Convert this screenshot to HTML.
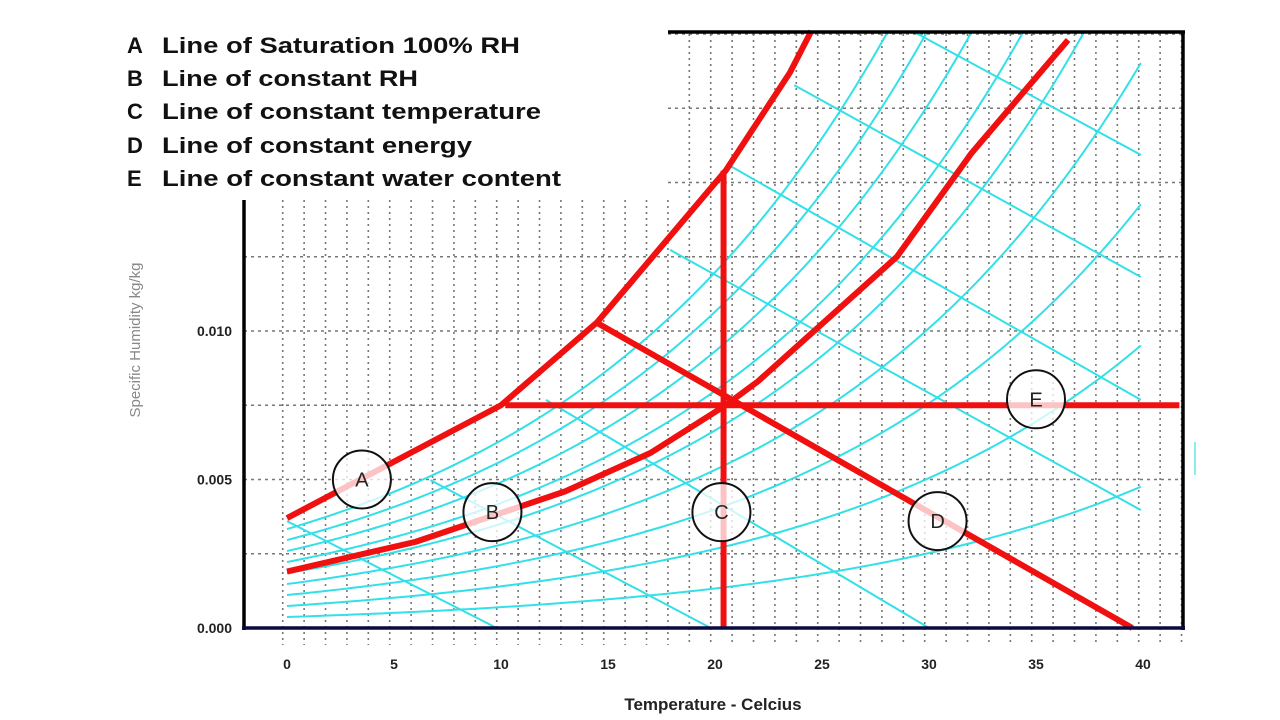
<!DOCTYPE html>
<html><head><meta charset="utf-8">
<style>
body{margin:0;background:#fff;width:1280px;height:720px;overflow:hidden;font-family:"Liberation Sans",sans-serif}
svg{position:absolute;left:0;top:0}
</style></head>
<body>
<svg id="chart" width="1280" height="720">
<g id="legend" font-size="22" font-weight="bold" fill="#111">
<text x="127" y="53">A</text>
<text x="162" y="53" textLength="358" lengthAdjust="spacingAndGlyphs">Line of Saturation 100% RH</text>
<text x="127" y="86">B</text>
<text x="162" y="86" textLength="256" lengthAdjust="spacingAndGlyphs">Line of constant RH</text>
<text x="127" y="119">C</text>
<text x="162" y="119" textLength="379" lengthAdjust="spacingAndGlyphs">Line of constant temperature</text>
<text x="127" y="153">D</text>
<text x="162" y="153" textLength="310" lengthAdjust="spacingAndGlyphs">Line of constant energy</text>
<text x="127" y="186">E</text>
<text x="162" y="186" textLength="399" lengthAdjust="spacingAndGlyphs">Line of constant water content</text>
</g>
<g id="grid"></g>
<g id="cyan"></g>
<g id="red"></g>
<g id="frame"></g>
<g id="axes"></g>
<g id="circles"></g>
<text x="140" y="340" transform="rotate(-90 140 340)" text-anchor="middle" font-size="15" fill="#888">Specific Humidity kg/kg</text>
<text x="713" y="710" text-anchor="middle" font-size="17" font-weight="bold" fill="#222">Temperature - Celcius</text>
<line x1="1195" y1="442" x2="1195" y2="475" stroke="#8ee" stroke-width="2"/>
</svg>
<script>
const xTicks=[0,5,10,15,20,25,30,35,40];
const yTicks=[0,0.005,0.010];
const yTickLabels=["0.000","0.005","0.010"];
const rhFractions=[0.1,0.2,0.3,0.4,0.5,0.6,0.7,0.8,0.9];
const satBase=0.0037, satRate=0.064;
const enthalpyStartT=[0,6.7,12.1,17.9,20.8,23.7,29.4];
const enthalpyStartQ=[0.0036,0.00498,0.00768,0.01273,0.01552,0.01828,0.02003];
const enthalpyEndT=[9.8,19.8,30.0,39.9,39.9,39.9,39.9];
const enthalpyEndQ=[0,0,0,0.00397,0.00768,0.01182,0.01593];
const satT=[0,10,14.5,20.5,23.5,24.5];
const satQ=[0.0037,0.0075,0.0103,0.0154,0.0187,0.0201];
const rhT=[0,6,13,17,20.5,22,28.5,32,36.5];
const rhQ=[0.0019,0.0029,0.0046,0.0059,0.0075,0.0083,0.0125,0.0160,0.0198];
const tempT=[20.4,20.4];
const tempQ=[0.0154,0];
const energyT=[14.5,39.5];
const energyQ=[0.01027,0];
const waterT=[10.2,41.7];
const waterQ=[0.0075,0.0075];
const markerLabels=["A","B","C","D","E"];
const markerT=[3.5,9.6,20.3,30.4,35];
const markerQ=[0.0050,0.0039,0.0039,0.0036,0.0077];

const X=t=>287+t*21.4, Y=q=>628-q*29700;
const NS="http://www.w3.org/2000/svg";
function mk(tag,attrs,parent){const e=document.createElementNS(NS,tag);for(const k in attrs)e.setAttribute(k,attrs[k]);parent.appendChild(e);return e;}
const grid=document.getElementById('grid'),cyan=document.getElementById('cyan'),red=document.getElementById('red'),frame=document.getElementById('frame'),axes=document.getElementById('axes'),circles=document.getElementById('circles');

for(let t=-0.2;X(t)<1182;t+=1){
  const x=X(t); const top=x>=668?34:200;
  const l=mk('line',{x1:x,y1:top,x2:x,y2:645,stroke:'#777','stroke-width':1.6,'stroke-dasharray':'2,4'},grid);
  
  
}
for(let q=0.0025;q<0.0205;q+=0.0025){
  const y=Y(q); const x1=y<200?668:244;
  const l=mk('line',{x1:x1,y1:y,x2:1183,y2:y,stroke:'#777','stroke-width':1.6,'stroke-dasharray':'3,4'},grid);
  
  
}
const qmax=0.0201;
rhFractions.forEach(f=>{
  let pts=[];
  for(let t=0;t<=39.9;t+=0.3){const q=f*satBase*Math.exp(satRate*t);if(q>qmax){const tt=Math.log(qmax/(f*satBase))/satRate;pts.push(X(tt)+','+Y(qmax));break;}pts.push(X(t)+','+Y(q));}
  const p=mk('polyline',{points:pts.join(' '),fill:'none',stroke:'#33e0e8','stroke-width':2},cyan);
  
  
});
enthalpyStartT.forEach((t,i)=>{
  const l=mk('line',{x1:X(t),y1:Y(enthalpyStartQ[i]),x2:X(enthalpyEndT[i]),y2:Y(enthalpyEndQ[i]),stroke:'#33e0e8','stroke-width':2},cyan);
  
  
});
function redLine(T,Q,name){
  const p=mk('polyline',{points:T.map((t,i)=>X(t)+','+Y(Q[i])).join(' '),fill:'none',stroke:'#f01010','stroke-width':6,'stroke-linejoin':'round'},red);
  
  
}
redLine(satT,satQ,'saturation-line-a');
redLine(rhT,rhQ,'constant-rh-line-b');
redLine(tempT,tempQ,'constant-temperature-line-c');
redLine(energyT,energyQ,'constant-energy-line-d');
redLine(waterT,waterQ,'constant-water-line-e');
[[244,200,244,630,'#000'],[668,32,1185,32,'#000'],[1183,32,1183,630,'#000'],[242,628,1185,628,'#0a0a40']].forEach(a=>{
  const l=mk('line',{x1:a[0],y1:a[1],x2:a[2],y2:a[3],stroke:a[4],'stroke-width':3.5},frame);
  
  
});
xTicks.forEach(t=>{
  const e=mk('text',{x:X(t),y:669,'text-anchor':'middle','font-size':14,'font-weight':'bold',fill:'#222'},axes);
  e.textContent=t;
  
  
});
yTicks.forEach((q,i)=>{
  const e=mk('text',{x:232,y:Y(q)+5,'text-anchor':'end','font-size':14,'font-weight':'bold',fill:'#222'},axes);
  e.textContent=yTickLabels[i];
  
  
});
markerLabels.forEach((s,i)=>{
  const cx=X(markerT[i]),cy=Y(markerQ[i]);
  const c=mk('circle',{cx:cx,cy:cy,r:29,fill:'rgba(255,255,255,0.75)',stroke:'#111','stroke-width':2},circles);
  
  
  const t=mk('text',{x:cx,y:cy+7,'text-anchor':'middle','font-size':20,fill:'#222'},circles);
  t.textContent=s;
  
  
});
</script>
</body></html>
